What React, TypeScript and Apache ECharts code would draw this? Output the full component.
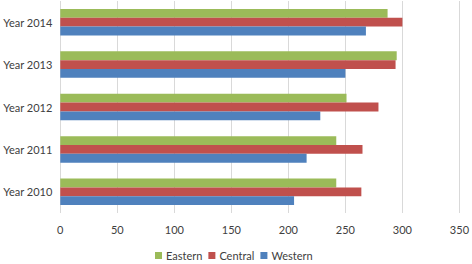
import React, { useEffect, useRef } from "react";
import * as echarts from "echarts";

const categories = ["Year 2010", "Year 2011", "Year 2012", "Year 2013", "Year 2014"];
const eastern = [242, 242, 251, 295, 287];
const central = [264, 265, 279, 294, 300];
const western = [205, 216, 228, 250, 268];
const xTicks = { min: 0, max: 350, interval: 50 };

const FONT = "Lato, 'Open Sans', sans-serif";

export default function App() {
  const ref = useRef<HTMLDivElement>(null);
  useEffect(() => {
    if (!ref.current) return;
    const chart = echarts.init(ref.current, undefined, { renderer: "svg" });
    chart.setOption({
      animation: false,
      backgroundColor: "#ffffff",
      textStyle: { fontFamily: FONT },
      grid: { left: 59, right: 11, top: 1, bottom: 51, containLabel: false },
      legend: {
        data: ["Eastern", "Central", "Western"],
        left: 155,
        top: 250,
        padding: 0,
        itemWidth: 7,
        itemHeight: 7,
        itemGap: 6,
        icon: "rect",
        textStyle: { fontFamily: FONT, fontSize: 11, color: "#404040", padding: [0, 0, 0, -1] },
      },
      xAxis: {
        type: "value",
        min: xTicks.min,
        max: xTicks.max,
        interval: xTicks.interval,
        axisLine: { show: false },
        axisTick: { show: false },
        splitLine: { show: true, lineStyle: { color: "#d9d9d9", width: 1 } },
        axisLabel: { color: "#404040", fontSize: 11, fontFamily: FONT, margin: 11 },
      },
      yAxis: {
        type: "category",
        data: categories,
        axisLine: { show: false },
        axisTick: { show: false },
        axisLabel: { color: "#404040", fontSize: 11, fontFamily: FONT, margin: 8 },
      },
      series: [
        {
          name: "Eastern",
          type: "bar",
          data: eastern,
          itemStyle: { color: "#9BBB59" },
          barGap: "0%",
          barCategoryGap: "37.5%",
        },
        {
          name: "Central",
          type: "bar",
          data: central,
          itemStyle: { color: "#C0504D" },
          barGap: "0%",
          barCategoryGap: "37.5%",
        },
        {
          name: "Western",
          type: "bar",
          data: western,
          itemStyle: { color: "#4F81BD" },
          barGap: "0%",
          barCategoryGap: "37.5%",
        },
      ],
    });
    return () => chart.dispose();
  }, []);
  return (
    <div
      ref={ref}
      style={{ position: "absolute", left: 0, top: 0, width: 472, height: 264 }}
    />
  );
}
